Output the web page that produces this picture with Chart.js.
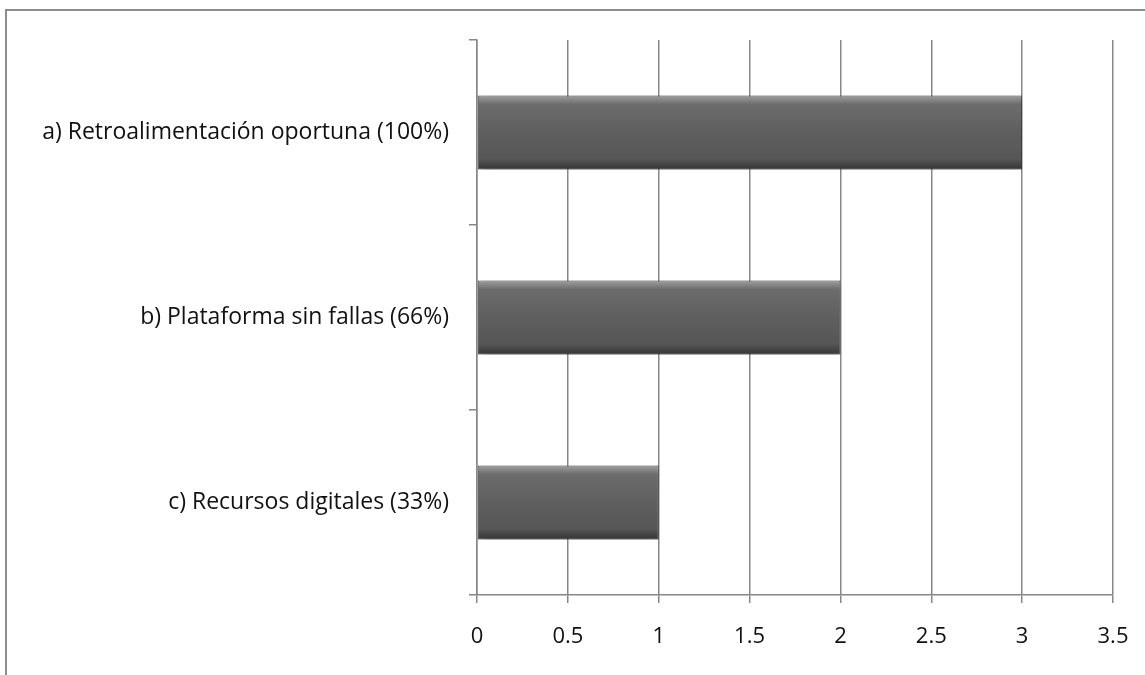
<!DOCTYPE html>
<html>
<head>
<meta charset="utf-8">
<script src="https://cdn.jsdelivr.net/npm/chart.js@4/dist/chart.umd.min.js"></script>
<style>
  html, body { margin: 0; padding: 0; background: #fff; }
  #wrap { width: 1145px; height: 675px; position: relative; }
</style>
</head>
<body>
<div id="wrap"><canvas id="chart"></canvas></div>
<script>
const categories = [
  'a) Retroalimentación oportuna (100%)',
  'b) Plataforma sin fallas (66%)',
  'c) Recursos digitales (33%)',
];
const values = [3, 2, 1];
const xTicks = [0, 0.5, 1, 1.5, 2, 2.5, 3, 3.5];

const gridColor = '#878787';
const fontFamily = "'Open Sans', 'Liberation Sans', sans-serif";

// outer frame: only top and left edges show in the picture
const framePlugin = {
  id: 'frame',
  beforeDraw(chart) {
    const { ctx } = chart;
    ctx.save();
    ctx.strokeStyle = '#8c8c8c';
    ctx.lineWidth = 2;
    ctx.beginPath();
    ctx.moveTo(6, 675);
    ctx.lineTo(6, 10);
    ctx.lineTo(1145, 10);
    ctx.stroke();
    ctx.restore();
  },
};

const shadowPlugin = {
  id: 'barShadow',
  beforeDatasetDraw(chart) {
    const { ctx } = chart;
    ctx.save();
    ctx.shadowColor = 'rgba(0, 0, 0, 0.4)';
    ctx.shadowBlur = 8;
    ctx.shadowOffsetX = 2;
    ctx.shadowOffsetY = 4;
  },
  afterDatasetDraw(chart) {
    chart.ctx.restore();
  },
};

function barGradient(context) {
  const chart = context.chart;
  const yScale = chart.scales.y;
  if (!yScale || context.dataIndex === undefined) {
    return '#5e5e5e';
  }
  const center = yScale.getPixelForValue(context.dataIndex);
  if (!Number.isFinite(center)) {
    return '#5e5e5e';
  }
  const half = 37;
  const g = chart.ctx.createLinearGradient(0, center - half, 0, center + half);
  g.addColorStop(0, '#a0a0a0');
  g.addColorStop(0.12, '#6c6c6c');
  g.addColorStop(0.5, '#5f5f5f');
  g.addColorStop(0.86, '#565656');
  g.addColorStop(1, '#353535');
  return g;
}

const chart = new Chart(document.getElementById('chart'), {
  type: 'bar',
  data: {
    labels: categories,
    datasets: [
      {
        data: values,
        backgroundColor: barGradient,
        borderColor: '#484848',
        borderWidth: 1,
        borderSkipped: false,
        categoryPercentage: 1,
        barPercentage: 0.4,
      },
    ],
  },
  options: {
    indexAxis: 'y',
    responsive: true,
    maintainAspectRatio: false,
    animation: false,
    layout: { padding: { left: 10, right: 32, top: 40, bottom: 0 } },
    plugins: {
      legend: { display: false },
      tooltip: { enabled: false },
    },
    scales: {
      x: {
        min: 0,
        max: 3.5,
        afterBuildTicks(scale) {
          scale.ticks = xTicks.map((value) => ({ value }));
        },
        afterFit(scale) {
          scale.height = 80;
          scale.paddingLeft = 0;
          scale.paddingRight = 0;
        },
        grid: { color: gridColor, lineWidth: 1.5, tickLength: 8 },
        border: { color: gridColor, width: 1.5 },
        ticks: {
          color: '#111',
          padding: 21,
          font: { family: fontFamily, size: 22 },
          callback: (value) => String(value),
        },
      },
      y: {
        afterFit(scale) {
          scale.width = 467;
        },
        grid: {
          offset: true,
          drawOnChartArea: false,
          color: gridColor,
          lineWidth: 1.5,
          tickLength: 8,
        },
        border: { color: gridColor, width: 1.5 },
        ticks: {
          color: '#111',
          padding: 20,
          font: { family: fontFamily, size: 23 },
        },
      },
    },
  },
  plugins: [framePlugin, shadowPlugin],
});
chart.update();
</script>
</body>
</html>
